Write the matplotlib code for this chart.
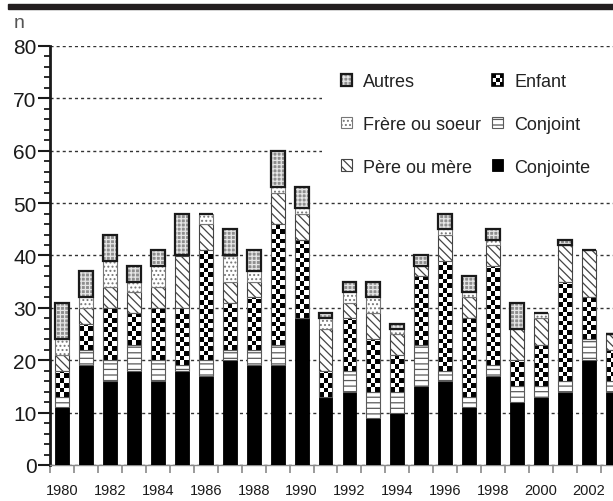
import numpy as np
import matplotlib
matplotlib.use("Agg")
import matplotlib.pyplot as plt
from matplotlib.patches import Patch, Rectangle
from matplotlib.legend_handler import HandlerBase

years = list(range(1980, 2004))
conjointe = [11, 19, 16, 18, 16, 18, 17, 20, 19, 19, 28, 13, 14, 9, 10, 15, 16, 11, 17, 12, 13, 14, 20, 14]
conjoint = [2, 3, 4, 5, 4, 1, 3, 2, 3, 4, 0, 0, 4, 5, 4, 8, 2, 2, 2, 3, 2, 2, 4, 2]
enfant = [5, 5, 10, 6, 10, 11, 21, 9, 10, 23, 15, 5, 10, 10, 7, 13, 21, 15, 19, 5, 8, 19, 8, 6]
pere_mere = [3, 3, 4, 4, 4, 10, 5, 4, 3, 6, 5, 8, 3, 5, 4, 2, 5, 4, 4, 6, 5, 7, 9, 3]
frere_soeur = [3, 2, 5, 2, 4, 0, 2, 5, 2, 1, 1, 2, 2, 3, 1, 0, 1, 1, 1, 0, 1, 0, 0, 0]
autres = [7, 5, 5, 3, 3, 8, 0, 5, 4, 7, 4, 1, 2, 3, 1, 2, 3, 3, 2, 5, 0, 1, 0, 0]
labels = ["Autres", "Frère ou soeur", "Père ou mère", "Enfant", "Conjoint", "Conjointe"]

plt.rcParams['font.family'] = ['Liberation Sans', 'DejaVu Sans']
plt.rcParams['hatch.linewidth'] = 0.9

INK = "#1a1a1a"
EDGE = "#5a5a5a"

fig = plt.figure(figsize=(6.13, 5.02), dpi=100)
ax = fig.add_axes([50 / 613, 36 / 502, 563 / 613, 419 / 502])

x = np.arange(len(years))
W = 0.58

# each series = list of layers (drawn bottom to top)
styles = {
    "conjointe": [dict(fc="black", ec="black", lw=0.6, hatch=None)],
    "conjoint": [dict(fc="white", ec=EDGE, lw=0.8, hatch="---")],
    "pere": [dict(fc="white", ec="#444444", lw=0.8, hatch="\\\\\\\\")],
    "frere": [dict(fc="white", ec="#777777", lw=0.8, hatch="....")],
    "autres": [dict(fc="#8e8e8e", ec="#e6e6e6", lw=0, hatch="++++"),
               dict(fc="none", ec=INK, lw=1.6, hatch=None)],
}

bottom = np.zeros(len(years))


def stack(vals, layers, z=3):
    global bottom
    for k, st in enumerate(layers):
        ax.bar(x, vals, W, bottom=bottom, facecolor=st["fc"], edgecolor=st["ec"],
               linewidth=st["lw"], hatch=st["hatch"], zorder=z + 0.1 * k)
    bottom = bottom + np.array(vals)


stack(conjointe, styles["conjointe"])
stack(conjoint, styles["conjoint"])

# enfant: checkerboard drawn as clipped images
enf_bottom = bottom.copy()
enf_bars = ax.bar(x, enfant, W, bottom=bottom, facecolor="none", edgecolor=EDGE,
                  linewidth=0.8, zorder=3.2)
cell_h = 0.88
for xi, b, h, patch in zip(x, enf_bottom, enfant, enf_bars.patches):
    if h == 0:
        continue
    nrows = int(np.ceil(h / cell_h))
    grid = np.add.outer(np.arange(nrows), np.arange(3)) % 2
    im = ax.imshow(grid, cmap="gray", extent=(xi - W / 2, xi + W / 2, b, b + nrows * cell_h),
                   origin="lower", interpolation="nearest", aspect="auto", zorder=3.1)
    im.set_clip_path(patch)
bottom = bottom + np.array(enfant)

stack(pere_mere, styles["pere"])
stack(frere_soeur, styles["frere"])
stack(autres, styles["autres"])

ax.set_xlim(-0.5, 23.0)
ax.set_ylim(0, 80)
ax.set_aspect("auto")

# axes styling
for s in ("top", "right"):
    ax.spines[s].set_visible(False)
ax.spines["left"].set_linewidth(2.0)
ax.spines["left"].set_color(INK)
ax.spines["bottom"].set_color("#8a8a8a")
ax.spines["bottom"].set_linewidth(1.0)

ax.set_yticks(np.arange(0, 81, 10))
ax.set_yticks(np.arange(0, 81, 2), minor=True)
ax.tick_params(axis="y", which="major", length=8.6, width=1.5, color=INK,
               labelsize=15, labelcolor=INK, pad=1)
ax.tick_params(axis="y", which="minor", length=4.3, width=1.3, color=INK)

ax.set_xticks(x[::2])
ax.set_xticklabels([str(y) for y in years[::2]])
ax.set_xticks(np.arange(-0.5, 23.5, 1), minor=True)
ax.tick_params(axis="x", which="major", length=0, labelsize=10.5, labelcolor=INK, pad=13)
ax.tick_params(axis="x", which="minor", length=6, width=1.2, color="#8a8a8a")
for t in ax.get_xticklabels():
    t.set_family(["Liberation Sans Narrow", "Liberation Sans", "DejaVu Sans"])

ax.set_axisbelow(True)
ax.grid(axis="y", which="major", color="#333333", linestyle=(0, (2.2, 2.2)), linewidth=1.0)

# white area behind the legend hides the gridlines there
ax.add_patch(Rectangle((272 / 563, (466 - 195) / 419), 1, (195 - 55) / 419,
                       transform=ax.transAxes, fc="white", ec="none", zorder=1))

fig.text(14 / 613, 1 - 24 / 502, "n", fontsize=14, color="#555555", va="center", ha="left")
fig.add_artist(Rectangle((8 / 613, 1 - 10 / 502), 1, 5 / 502, transform=fig.transFigure,
                         color="#231f20", zorder=10))


class LayerHandler(HandlerBase):
    def __init__(self, layers=None, checker=False):
        super().__init__()
        self.layers = layers or []
        self.checker = checker

    def create_artists(self, legend, orig_handle, xdescent, ydescent, width, height,
                       fontsize, trans):
        x0, y0 = -xdescent, -ydescent
        arts = []
        if self.checker:
            n = 3
            cw, ch = width / n, height / n
            for r in range(n):
                for c in range(n):
                    fc = "black" if (r + c) % 2 == 0 else "white"
                    arts.append(Rectangle((x0 + c * cw, y0 + r * ch), cw, ch,
                                          fc=fc, ec="none", transform=trans))
            arts.append(Rectangle((x0, y0), width, height, fc="none",
                                  ec="black", lw=1.2, transform=trans))
        for st in self.layers:
            arts.append(Rectangle((x0, y0), width, height, facecolor=st["fc"],
                                  edgecolor=st["ec"], linewidth=st["lw"],
                                  hatch=st["hatch"], transform=trans))
        return arts


order = ["autres", "frere", "pere", None, "conjoint", "conjointe"]
handles, hmap = [], {}
for key, lab in zip(order, labels):
    h = Patch(label=lab)
    handles.append(h)
    hmap[h] = LayerHandler(checker=True) if key is None else LayerHandler(styles[key])

leg = ax.legend(handles=handles, ncol=2, loc="upper left",
                bbox_to_anchor=(325 / 613, 1 - 58 / 502), bbox_transform=fig.transFigure,
                fontsize=13, handlelength=0.62, handleheight=0.62, handletextpad=0.6,
                labelspacing=1.42, columnspacing=0.6, borderpad=0.4, frameon=False,
                handler_map=hmap)
for t in leg.get_texts():
    t.set_color("#222222")

fig.savefig("out.png", dpi=100, facecolor="white")
